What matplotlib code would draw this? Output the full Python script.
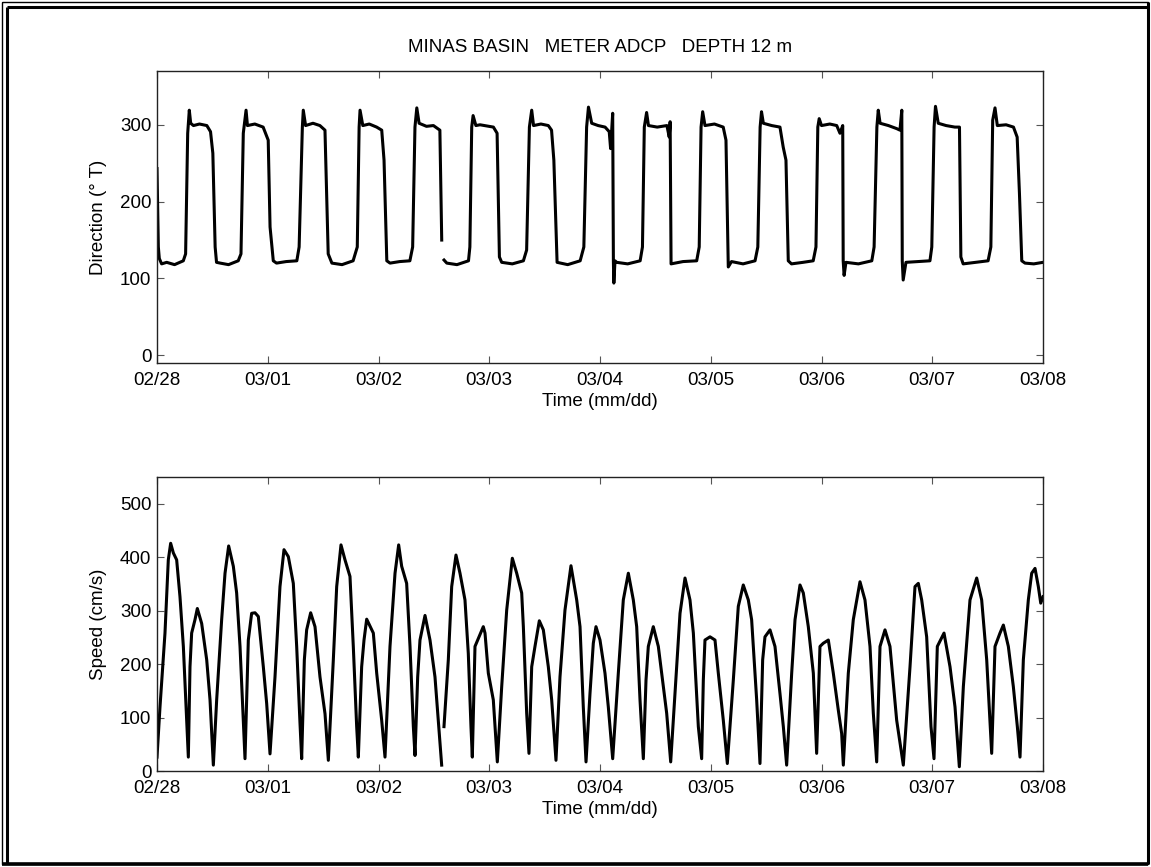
import numpy as np
import matplotlib
matplotlib.use("Agg")
import matplotlib.pyplot as plt
from matplotlib.lines import Line2D

plt.rcParams["font.family"] = ["Liberation Sans", "DejaVu Sans"]
plt.rcParams["font.size"] = 13.5

# ---- data: hours since 02/28 00:00 ----
day_labels = ["02/28", "03/01", "03/02", "03/03", "03/04",
              "03/05", "03/06", "03/07", "03/08"]
day_hours = [0, 24, 48, 72, 96, 120, 144, 168, 192]

dir_ticks = [0, 100, 200, 300]
speed_ticks = [0, 100, 200, 300, 400, 500]

NAN = float("nan")

# current direction (deg True)
dir_hours = [
    0.0, 0.29, 0.5, 1.0, 2.1, 3.8, 5.7, 6.2, 6.65, 7.0, 7.3, 7.9, 9.2, 10.8, 11.6, 12.1, 12.6, 12.9,
    13.7, 15.5, 17.6, 18.2, 18.7, 19.3, 19.6, 21.2, 23.0, 24.1, 24.5, 25.2, 25.9, 28.0,
    30.3, 30.8, 31.5, 31.7, 32.2, 33.8, 35.3, 36.4, 37.1, 37.9, 40.1,
    42.5, 43.4, 43.8, 44.0, 44.6, 46.0, 47.6, 48.7, 49.2, 49.8, 50.5, 52.6,
    54.8, 55.4, 55.9, 56.3, 56.8, 58.4, 59.9, 61.3, 61.7, 61.9,
    62.2, 62.8, 65.0, 67.5, 67.8, 68.2, 68.5, 69.1, 70.0, 72.9, 73.7, 74.2, 74.7, 77.0,
    79.4, 80.1, 80.7, 81.2, 81.6, 83.2, 84.8, 85.5, 86.0, 86.7, 89.0,
    91.7, 92.5, 93.1, 93.5, 94.2, 95.6, 97.1, 98.0, 98.3, 98.75, 98.9, 99.0, 99.25, 99.6, 102.0,
    104.7, 105.2, 105.6, 106.1, 106.5, 108.4, 110.5, 111.0, 111.2, 111.4, 114.0,
    116.95, 117.5, 117.9, 118.25, 118.75, 120.8, 122.7, 123.3, 123.8, 124.5, 127.0,
    129.6, 130.2, 130.7, 131.0, 131.4, 133.2, 135.0, 135.7, 136.3, 136.8, 137.5, 140.0,
    142.2, 142.8, 143.2, 143.5, 144.0, 145.8, 147.3, 148.0, 148.6, 148.7, 148.9, 149.3, 152.0,
    154.9, 155.4, 156.0, 156.3, 156.7, 158.5, 160.3, 161.0, 161.4, 161.5, 161.7, 162.3, 165.0,
    167.5, 167.9, 168.4, 168.7, 169.3, 171.0, 172.9, 173.9, 174.2, 174.7, 177.5,
    180.1, 180.7, 181.1, 181.6, 182.1, 184.0, 185.6, 186.4, 186.9, 187.4, 188.1, 190.0, 192.0,
]
dir_values = [
    243, 141, 126, 119, 121, 118, 123, 132, 289, 319, 302, 299, 301, 299, 291, 263, 141, 121,
    120, 118, 123, 132, 289, 319, 299, 301, 297, 280, 167, 123, 120, 122,
    123, 141, 297, 319, 299, 302, 299, 293, 132, 120, 118,
    123, 141, 297, 319, 299, 301, 297, 293, 254, 123, 120, 122,
    123, 141, 297, 322, 302, 298, 299, 293, 150, NAN,
    124, 120, 118, 123, 141, 297, 312, 299, 300, 297, 289, 128, 121, 119,
    123, 137, 297, 319, 299, 301, 299, 293, 254, 121, 118,
    123, 141, 297, 323, 302, 299, 297, 291, 269, 315, 123, 94, 123, 121, 119,
    123, 141, 297, 316, 299, 297, 299, 284, 304, 119, 122,
    123, 141, 297, 317, 299, 301, 297, 280, 115, 122, 119,
    123, 141, 297, 317, 302, 299, 297, 271, 254, 123, 119, 121,
    123, 141, 297, 308, 299, 301, 299, 289, 299, 123, 104, 121, 119,
    123, 141, 297, 319, 302, 299, 295, 293, 319, 123, 98, 121, 122,
    123, 141, 297, 324, 302, 299, 297, 297, 128, 119, 121,
    123, 141, 306, 322, 299, 300, 297, 284, 210, 123, 120, 119, 121,
]

# current speed (cm/s)
speed_hours = [
    0.0, 0.65, 1.73, 2.45, 2.96, 3.54, 4.26, 4.98, 5.71, 6.43, 6.79,
    7.15, 7.51, 8.23, 8.74, 9.68, 10.77, 11.49, 12.21,
    12.93, 14.01, 14.74, 15.53, 16.54, 17.26, 17.99, 18.71, 19.07,
    19.79, 20.51, 21.24, 21.96, 23.04, 23.77, 24.49,
    25.57, 26.65, 27.52, 28.46, 29.54, 30.27, 30.99, 31.35,
    31.93, 32.43, 33.30, 34.24, 35.32, 36.41, 37.13,
    38.21, 38.94, 39.87, 40.74, 41.82, 42.54, 43.27, 43.63,
    44.35, 44.86, 45.44, 46.88, 47.61, 48.69, 49.41,
    50.49, 51.58, 52.37, 53.02, 54.10, 54.83, 55.55, 55.91,
    56.49, 56.99, 58.08, 59.16, 60.24, 60.96, 61.69, 61.9,
    62.19, 63.13, 63.86, 64.79, 65.66, 66.74, 67.46, 68.04, 68.33,
    68.91, 70.71, 71.08, 71.80, 72.88, 73.25, 73.75,
    74.70, 75.78, 77.00, 77.95, 79.03, 79.39, 80.11, 80.61,
    81.20, 81.91, 82.85, 83.72, 84.80, 85.53, 86.46,
    87.33, 88.41, 89.71, 90.95, 91.67, 92.38, 92.97,
    93.83, 94.55, 95.13, 96.00, 97.08, 97.80, 98.75,
    99.97, 101.05, 102.14, 103.22, 103.95, 104.67, 105.39,
    105.97, 106.47, 107.55, 108.64, 109.72, 110.45, 111.32,
    112.25, 113.34, 114.42, 115.50, 116.23, 117.31, 118.03,
    118.39, 118.75, 119.84, 120.92, 121.64, 122.72, 123.59,
    124.89, 125.97, 127.05, 128.14, 128.86, 129.95, 130.67,
    131.25, 131.75, 132.84, 133.92, 135.00, 135.73, 136.45,
    137.54, 138.26, 139.34, 140.06, 141.14, 142.23, 142.95,
    143.67, 144.39, 145.48, 146.56, 147.64, 148.37, 148.73,
    149.81, 150.89, 152.34, 153.42, 154.51, 155.23, 155.96,
    156.68, 157.76, 158.84, 160.29, 161.73,
    163.18, 164.26, 164.98, 165.71, 166.79, 167.73, 168.38,
    169.10, 170.55, 171.85, 172.93, 173.87,
    174.74, 176.18, 177.63, 178.71, 179.80, 180.88,
    181.60, 182.68, 183.41, 184.49, 185.57, 186.44, 187.02,
    187.74, 188.82, 189.55, 190.27, 190.99, 191.51, 192.0,
]
speed_values = [
    26, 120, 258, 395, 426, 408, 395, 326, 233, 95, 26,
    195, 258, 283, 304, 276, 208, 133, 11,
    133, 283, 370, 421, 383, 333, 233, 95, 23,
    245, 295, 296, 289, 195, 126, 32,
    176, 345, 414, 401, 351, 233, 89, 23,
    208, 264, 296, 270, 176, 107, 20,
    208, 345, 423, 395, 364, 233, 83, 26,
    195, 245, 284, 258, 183, 95, 26,
    233, 370, 423, 383, 351, 233, 83, 29,
    176, 245, 291, 245, 176, 95, 11, NAN,
    83, 208, 345, 404, 370, 320, 220, 83, 26,
    233, 270, 258, 183, 133, 83, 17,
    158, 301, 398, 370, 333, 270, 108, 33,
    195, 233, 281, 264, 195, 133, 20,
    176, 301, 384, 320, 270, 120, 17,
    145, 239, 270, 245, 183, 120, 23,
    183, 320, 370, 320, 270, 133, 23,
    170, 233, 270, 233, 158, 108, 17,
    145, 295, 361, 320, 258, 83, 23,
    170, 245, 251, 245, 183, 95, 14,
    170, 308, 348, 320, 283, 133, 14,
    208, 251, 264, 233, 145, 83, 11,
    183, 283, 348, 333, 270, 183, 33,
    233, 239, 245, 183, 114, 70, 11,
    183, 283, 354, 320, 233, 108, 17,
    233, 264, 233, 95, 11,
    195, 345, 351, 320, 251, 83, 23,
    233, 258, 195, 120, 8,
    158, 320, 361, 320, 208, 33,
    233, 258, 273, 233, 158, 83, 26,
    208, 320, 370, 379, 345, 314, 326,
]

TITLE = "MINAS BASIN   METER ADCP   DEPTH 12 m"

W, H = 1151, 867
fig = plt.figure(figsize=(W / 100, H / 100), dpi=100)


def frac(x0, y0, x1, y1):
    """Pixel box (left, top, right, bottom) -> figure fraction rect."""
    return [x0 / W, 1 - y1 / H, (x1 - x0) / W, (y1 - y0) / H]


ax1 = fig.add_axes(frac(157, 71, 1043, 363))
ax2 = fig.add_axes(frac(157, 477, 1043, 771))

ax1.plot(dir_hours, dir_values, color="black", lw=2.2, solid_joinstyle="round")
ax2.plot(speed_hours, speed_values, color="black", lw=2.2, solid_joinstyle="round")

ax1.set_ylim(-10, 370)
ax2.set_ylim(0, 550)
ax1.set_yticks(dir_ticks)
ax2.set_yticks(speed_ticks)
ax1.set_ylabel("Direction (\u00b0 T)", labelpad=9)
ax2.set_ylabel("Speed (cm/s)", labelpad=9)

for ax in (ax1, ax2):
    ax.set_xlim(day_hours[0], day_hours[-1])
    ax.set_xticks(day_hours)
    ax.set_xticklabels(day_labels)
    ax.set_xlabel("Time (mm/dd)", labelpad=3)
    ax.tick_params(direction="in", top=True, right=True, length=5,
                   width=0.8, color="#555555", labelsize=13.5)
    ax.tick_params(axis="y", pad=4)
    ax.tick_params(axis="x", pad=6.5)
    for s in ax.spines.values():
        s.set_linewidth(1.0)
        s.set_color("#222222")

fig.text(600 / W, 1 - 47 / H, TITLE, ha="center", va="center", fontsize=13.5)

# page frame
def fline(xs, ys, lw):
    fig.add_artist(Line2D([x / W for x in xs], [1 - y / H for y in ys],
                          color="black", lw=lw, solid_capstyle="butt"))

fline([2, 1148, 1148, 2, 2], [2, 2, 864, 864, 2], 1.0)
fline([7, 7], [7, 864], 2.2)
fline([7, 1148], [7, 7], 2.2)
fline([2, 1148], [864, 864], 2.6)
fline([1148, 1148], [2, 864], 2.2)

fig.savefig("out.png", dpi=100, facecolor="white")
